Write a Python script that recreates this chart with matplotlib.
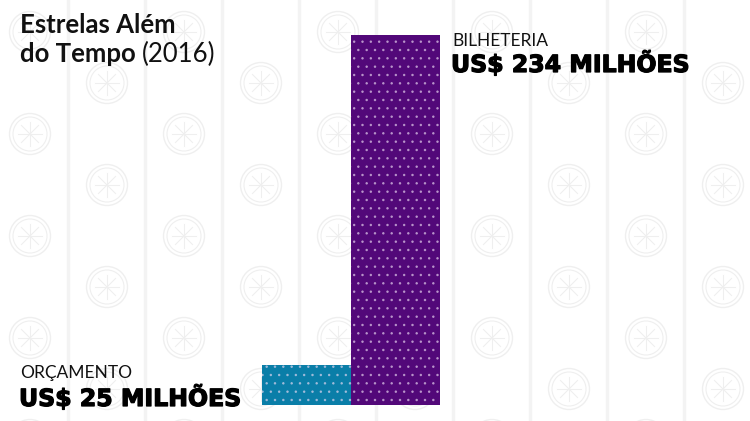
import numpy as np
import matplotlib.pyplot as plt
import matplotlib.patheffects as pe
from matplotlib.patches import Circle

# dados
categorias = ['ORÇAMENTO', 'BILHETERIA']
valores = [25, 234]          # milhões de US$
rotulos = ['US$ 25 MILHÕES', 'US$ 234 MILHÕES']
cores = ['#0a7ea8', '#520879']
titulo_1 = 'Estrelas Além'
titulo_2 = 'do Tempo'
ano = '(2016)'

W, H = 750, 421
fig = plt.figure(figsize=(W / 100, H / 100), dpi=100)
fig.patch.set_facecolor('white')

# fundo decorativo: listras e ícones
bg = fig.add_axes([0, 0, 1, 1])
bg.set_xlim(0, W)
bg.set_ylim(H, 0)
bg.axis('off')
cinza = '#efefef'
for k in range(10):
    bg.axvline(68 + 77 * k, color='#f3f3f3', lw=2.5, zorder=0)
    cx = 30 + 77 * k
    y0 = 32 if k % 2 == 0 else 83
    for j in range(5):
        cy = y0 + 102 * j
        bg.add_patch(Circle((cx, cy), 20.5, fill=False, ec=cinza, lw=1.0))
        bg.add_patch(Circle((cx, cy), 17, fill=False, ec=cinza, lw=0.8))
        for a in np.arange(0, np.pi, np.pi / 4):
            dx, dy = 12 * np.cos(a), 12 * np.sin(a)
            bg.plot([cx - dx, cx + dx], [cy - dy, cy + dy], color=cinza, lw=0.8)

# barras
ax = fig.add_axes([0, 16 / H, 1, 370 / H])
ax.patch.set_alpha(0)
x = np.arange(len(valores))
plt.rcParams['hatch.linewidth'] = 0.6
bars = ax.bar(x, valores, width=1.0, color=cores, edgecolor=(0.92, 0.85, 0.95, 0.55),
              linewidth=0, hatch='..')
ax.set_xlim(-0.5 - 262 / 89, 1.5 + 310 / 89)
ax.set_ylim(0, max(valores))
ax.axis('off')

# textos
fig.text(20 / W, 1 - 33 / H, titulo_1, family='Lato', weight='bold',
         fontsize=18.5, va='baseline', color='#111111')
t2 = fig.text(20 / W, 1 - 62 / H, titulo_2, family='Lato', weight='bold',
              fontsize=18.5, va='baseline', color='#111111')
fig.canvas.draw()
bb = t2.get_window_extent()
fig.text((bb.x1 + 6) / W, 1 - 62 / H, ano, family='Lato', weight='normal',
         fontsize=18.5, va='baseline', color='#111111')

grosso = [pe.withStroke(linewidth=0.9, foreground='black')]
fig.text(452 / W, 1 - 46.5 / H, categorias[1], family='Lato', weight='normal',
         fontsize=12.5, va='baseline', color='#111111')
fig.text(451 / W, 1 - 72 / H, rotulos[1], family='DejaVu Sans', weight='bold',
         fontsize=17, va='baseline', color='#000000', path_effects=grosso)
fig.text(20 / W, 1 - 378 / H, categorias[0], family='Lato', weight='normal',
         fontsize=12.5, va='baseline', color='#111111')
fig.text(19 / W, 1 - 406 / H, rotulos[0], family='DejaVu Sans', weight='bold',
         fontsize=17, va='baseline', color='#000000', path_effects=grosso)

fig.savefig('out.png', dpi=100, facecolor='white')
